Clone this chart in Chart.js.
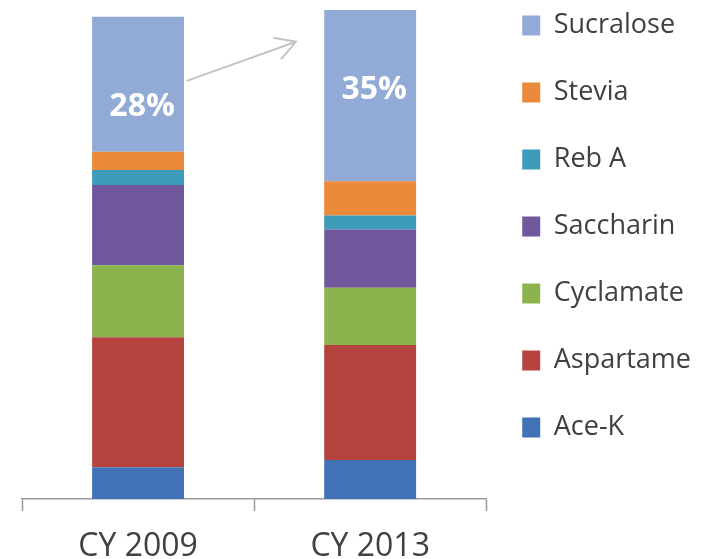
<!DOCTYPE html>
<html>
<head>
<meta charset="utf-8">
<script src="https://cdn.jsdelivr.net/npm/chart.js@4"></script>
<style>
  body { margin: 0; background: #fff; }
  #wrap { width: 708px; height: 559px; }
</style>
</head>
<body>
<div id="wrap"><canvas id="sweetenerChart" width="708" height="559"></canvas></div>
<script>
// Sweetener share by volume
const years = ['CY 2009', 'CY 2013'];
const aceK = [6.5, 8.0];
const aspartame = [26.6, 23.5];
const cyclamate = [14.7, 11.7];
const saccharin = [16.4, 11.9];
const rebA = [3.1, 2.9];
const stevia = [3.7, 7.0];
const sucralose = [27.6, 35.0];

const font = "'Open Sans', sans-serif";

// stacked bottom to top
const series = [
  { label: 'Ace-K', data: aceK, color: '#4172b5' },
  { label: 'Aspartame', data: aspartame, color: '#b5443f' },
  { label: 'Cyclamate', data: cyclamate, color: '#8db34e' },
  { label: 'Saccharin', data: saccharin, color: '#71589c' },
  { label: 'Reb A', data: rebA, color: '#3d9cba' },
  { label: 'Stevia', data: stevia, color: '#ea8a3a' },
  { label: 'Sucralose', data: sucralose, color: '#92aad6' }
];

// where the share labels and the arrow sit, in data units
const shareLabelY = [80.1, 83.6];
const arrowFrom = { x: 0.21, y: 85.5 };
const arrowTo = { x: 0.68, y: 93.5 };

// move legend up/left so items line up with the bars
const legendNudge = {
  id: 'legendNudge',
  afterLayout(chart) {
    const lg = chart.legend;
    lg.left -= 4; lg.right -= 4;
    lg.top -= 38; lg.bottom -= 38;
  }
};

// white % labels on the sucralose segments + the grey arrow
const annotations = {
  id: 'annotations',
  afterDatasetsDraw(chart) {
    const ctx = chart.ctx;
    const { x, y } = chart.scales;
    const meta = chart.getDatasetMeta(series.length - 1);
    ctx.save();
    ctx.fillStyle = '#fff';
    ctx.font = "bold 32px " + font;
    ctx.textAlign = 'center';
    ctx.textBaseline = 'middle';
    meta.data.forEach((bar, i) => {
      const total = series.reduce((s, d) => s + d.data[i], 0);
      const pct = Math.round(sucralose[i] / total * 100) + '%';
      ctx.fillText(pct, bar.x + 4, y.getPixelForValue(shareLabelY[i]));
    });

    const x0 = x.getPixelForValue(arrowFrom.x), y0 = y.getPixelForValue(arrowFrom.y);
    const x1 = x.getPixelForValue(arrowTo.x), y1 = y.getPixelForValue(arrowTo.y);
    const ang = Math.atan2(y1 - y0, x1 - x0);
    const head = 23, spread = Math.PI / 6;
    ctx.strokeStyle = '#c4c4c4';
    ctx.lineWidth = 2;
    ctx.beginPath();
    ctx.moveTo(x0, y0);
    ctx.lineTo(x1, y1);
    ctx.moveTo(x1 - head * Math.cos(ang - spread), y1 - head * Math.sin(ang - spread));
    ctx.lineTo(x1, y1);
    ctx.lineTo(x1 - head * Math.cos(ang + spread), y1 - head * Math.sin(ang + spread));
    ctx.stroke();
    ctx.restore();
  }
};

const ctx = document.getElementById('sweetenerChart').getContext('2d');
new Chart(ctx, {
  type: 'bar',
  data: {
    labels: years,
    datasets: series.map(s => ({
      label: s.label,
      data: s.data,
      backgroundColor: s.color,
      borderWidth: 0,
      categoryPercentage: 1,
      barPercentage: 0.396
    }))
  },
  options: {
    responsive: false,
    animation: false,
    layout: { padding: { top: 10, left: 22, right: 3, bottom: 0 } },
    scales: {
      x: {
        stacked: true,
        afterFit(scale) { scale.height = 60; },
        grid: { offset: true, drawOnChartArea: false, drawTicks: true, tickLength: 12, tickColor: '#999', tickWidth: 1.5 },
        border: { color: '#999', width: 1.5 },
        ticks: { color: '#404040', padding: 17, font: { family: font, size: 32 } }
      },
      y: { stacked: true, display: false, min: 0, max: 100 }
    },
    plugins: {
      legend: {
        position: 'right',
        align: 'start',
        reverse: true,
        labels: {
          boxWidth: 18,
          boxHeight: 20,
          padding: 40,
          color: '#404040',
          font: { family: font, size: 27 }
        }
      },
      tooltip: { enabled: false }
    }
  },
  plugins: [legendNudge, annotations]
});
</script>
</body>
</html>
